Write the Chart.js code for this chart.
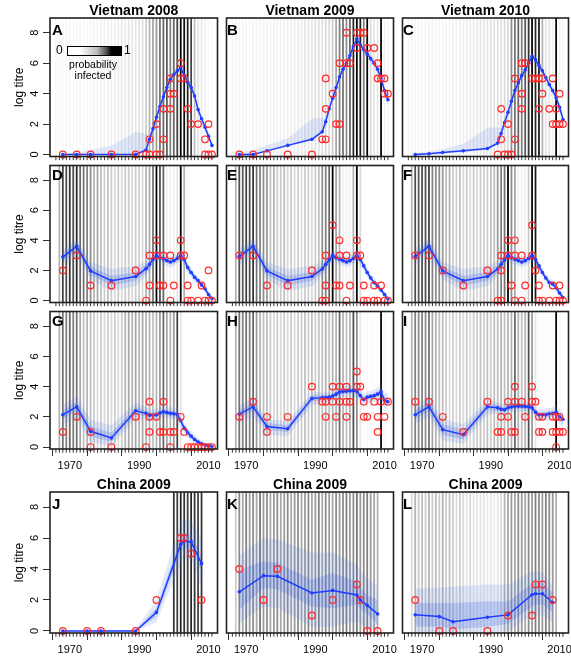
<!DOCTYPE html>
<html><head><meta charset="utf-8">
<script src="https://cdn.jsdelivr.net/npm/chart.js@4.4.1/dist/chart.umd.min.js"></script>
<style>
html,body{margin:0;padding:0;background:#fff;}
#wrap{position:relative;width:571px;height:656px;overflow:hidden;font-family:"Liberation Sans",Arial,Helvetica,sans-serif;color:#000;}
#wrap canvas{position:absolute;}
.letter{position:absolute;font-weight:bold;font-size:15px;line-height:15px;}
.lg{position:absolute;}
</style></head><body><div id="wrap"></div>
<script>
// ---------- data ----------
const probYears = [1966,1967,1968,1969,1970,1971,1972,1973,1974,1975,1976,1977,1978,1979,1980,1981,1982,1983,1984,1985,1986,1987,1988,1989,1990,1991,1992,1993,1994,1995,1996,1997,1998,1999,2000,2001,2002,2003,2004,2005,2006,2007,2008,2009,2010,2011];
const vnYears = [1968,1972,1976,1982,1989,1992,1993,1994,1995,1996,1997,1998,1999,2000,2001,2002,2003,2004,2005,2006,2007,2008,2009,2010,2011];
const cnYears = [1968,1975,1979,1989,1995,2002,2003,2005,2008];
const xTickValues = [1970,1980,1990,2000,2010];
const xTickLabels = [1970,1990,2010];
const yTickValues = [0,2,4,6,8];

const probA = [.03,.03,.03,.03,.03,.03,.03,.03,.03,.03,.04,.04,.04,.05,.05,.05,.06,.06,.07,.08,.08,.1,.1,.1,.12,.12,.2,.3,.35,.4,.55,.6,.65,.5,.6,.75,1,.95,.85,.75,.25,.1,.08,.05,.03,.02];
const probB = [.04,.04,.04,.04,.04,.04,.04,.04,.04,.04,.04,.04,.05,.05,.05,.06,.06,.07,.07,.08,.08,.1,.1,.1,.12,.12,.12,.15,.15,.2,.35,.5,.55,.45,.6,.85,1,.9,.5,1,.15,.1,.1,1,.05,.03];
const probC = [.04,.04,.04,.04,.04,.04,.04,.04,.04,.04,.04,.04,.05,.05,.05,.06,.06,.07,.07,.08,.08,.1,.1,.1,.12,.12,.12,.12,.15,.15,.45,.55,.6,.5,.65,.8,1,.85,.9,.3,.1,.1,.05,1,.05,.03];
const probD = [0,.3,.75,.7,.8,.7,.85,.6,.55,.5,.45,.3,.35,.25,.2,.25,.2,.15,.2,.15,.2,.2,.15,.2,.2,.15,.3,.35,.55,1,.7,.6,.05,.05,.05,.1,1,.3,.03,0,0,0,0,0,0,0];
const probE = [0,.3,.7,.65,.75,.7,.8,.55,.5,.45,.4,.25,.3,.2,.2,.25,.15,.2,.15,.2,.15,.2,.2,.15,.2,.25,.45,.5,.6,1,.35,.3,.05,.05,.05,.3,1,.15,0,0,0,0,0,0,0,0];
const probF = [0,.3,.7,.65,.7,.7,.75,.5,.45,.45,.4,.25,.3,.2,.2,.25,.15,.2,.15,.2,.15,.2,.2,.2,.25,.25,.4,.5,.55,1,.45,.35,.05,.05,.05,.2,1,.9,0,0,0,0,0,0,0,0];
const probG = [0,.3,.55,.5,.6,.5,.55,.35,.25,.3,.25,.2,.15,.2,.15,.2,.15,.2,.15,.2,.3,.35,.3,.35,.3,.35,.3,.3,.25,.3,.4,.6,.35,.3,.4,.75,.1,0,0,0,0,0,0,0,0,0];
const probH = [0,.3,.55,.5,.55,.5,.6,.4,.3,.25,.25,.2,.15,.2,.15,.2,.15,.2,.15,.2,.2,.25,.2,.25,.2,.25,.25,.3,.25,.3,.3,.6,.3,.25,.3,.7,.45,.1,.02,.02,.02,.02,.02,1,.02,0];
const probI = [0,.3,.5,.45,.5,.45,.55,.35,.3,.25,.25,.2,.15,.2,.15,.2,.15,.2,.15,.2,.2,.25,.2,.25,.2,.25,.25,.3,.25,.3,.3,.6,.3,.25,.3,.7,.4,.1,.02,.02,.02,.02,.02,1,.02,0];
const probJ = [0,0,0,0,0,0,0,0,0,0,0,0,0,0,0,0,0,0,0,0,0,0,0,0,0,0,0,0,0,0,0,0,0,0,.8,.75,.85,.8,.75,.85,.8,.75,.8,0,0,0];
const probK = [0,.2,.45,.35,.5,.4,.45,.35,.55,.4,.45,.35,.4,.45,.35,.4,.45,.35,.4,.45,.35,.4,.45,.35,.4,.5,.35,.45,.4,.35,.45,.4,.45,.5,.4,.45,.55,.4,.45,.5,.4,.35,.3,0,0,0];
const probL = [0,.15,.3,.2,.25,.2,.3,.2,.25,.2,.3,.2,.25,.2,.15,.2,.15,.1,.15,.1,.1,.1,.1,.08,.1,.08,.1,.15,.3,.35,.4,.35,.45,.4,.35,.45,.4,.5,.45,.4,.5,.45,.4,.3,0,0];

const meanA = [0,0,0,0,0,0.3,1.0,1.7,2.45,3.15,3.8,4.4,4.95,5.25,5.5,5.7,5.2,4.75,4.4,3.85,2.95,2.35,1.8,1.2,0.6];
const outerLoA = [0,0,0,0,0,0.2,0.85,1.5,2.25,2.95,3.6,4.2,4.75,5.05,5.3,5.45,4.95,4.5,4.15,3.6,2.7,2.1,1.55,0.95,0.35];
const outerHiA = [0.05,0.12,0.3,0.6,1.5,1.35,1.3,1.95,2.7,3.4,4.05,4.65,5.2,5.5,5.75,5.95,5.45,5.0,4.65,4.1,3.2,2.6,2.05,1.45,0.85];
const meanB = [0,0,0.24,0.6,1.0,1.5,2.15,3.0,3.7,4.4,5.1,5.6,6.0,6.5,7.1,7.6,7.2,6.9,6.6,6.3,6.0,5.6,5.0,4.2,3.6];
const outerLoB = [0,0,0.2,0.5,0.9,1.4,2.0,2.8,3.5,4.2,4.9,5.4,5.8,6.3,6.85,7.3,6.95,6.6,6.3,6.0,5.7,5.3,4.7,3.9,3.25];
const outerHiB = [0.15,0.3,0.6,1.05,2.35,2.4,2.4,3.2,3.9,4.6,5.3,5.8,6.25,6.75,7.35,7.85,7.45,7.15,6.9,6.6,6.3,5.9,5.3,4.5,3.95];
const meanC = [0,0.05,0.13,0.24,0.4,0.75,1.38,2.1,2.77,3.5,4.2,4.7,5.2,5.55,6.0,6.45,6.23,5.85,5.5,5.05,4.6,4.2,3.75,3.1,2.3];
const outerLoC = [0,0,0.05,0.15,0.3,0.65,1.25,1.9,2.6,3.3,4.0,4.5,5.0,5.35,5.8,6.2,6.0,5.6,5.25,4.8,4.35,3.95,3.5,2.85,2.0];
const outerHiC = [0.1,0.2,0.35,0.7,1.75,1.8,1.75,2.35,3.0,3.7,4.4,4.9,5.4,5.8,6.2,6.7,6.45,6.1,5.75,5.3,4.85,4.45,4.0,3.35,2.6];

const meanD = [2.9,3.6,1.97,1.32,1.6,2.12,2.4,2.73,3.0,2.85,2.77,2.65,2.56,2.65,2.8,3.0,2.73,2.19,1.86,1.54,1.32,1.04,0.78,0.4,0.13];
const outerLoD = [2.3,3.0,1.4,0.65,0.95,1.6,1.95,2.3,2.6,2.45,2.4,2.3,2.2,2.3,2.45,2.6,2.35,1.85,1.55,1.25,1.05,0.8,0.55,0.2,-0.05];
const outerHiD = [3.4,4.15,2.55,2.1,2.3,2.6,2.85,3.15,3.35,3.25,3.15,3.0,2.95,3.0,3.15,3.35,3.1,2.55,2.2,1.85,1.6,1.3,1.0,0.65,0.35];
const innerLoD = [2.6,3.3,1.7,1.0,1.3,1.85,2.15,2.5,2.8,2.65,2.6,2.5,2.4,2.45,2.62,2.8,2.55,2.0,1.7,1.4,1.18,0.92,0.66,0.3,0.05];
const innerHiD = [3.15,3.9,2.25,1.65,1.9,2.4,2.65,2.95,3.2,3.05,2.95,2.8,2.72,2.8,2.98,3.2,2.9,2.38,2.03,1.7,1.46,1.17,0.9,0.52,0.25];
const meanE = [2.94,3.6,1.97,1.32,1.6,2.1,2.4,2.7,3.0,2.85,2.75,2.65,2.56,2.65,2.8,3.0,2.73,2.3,1.86,1.5,1.2,0.95,0.7,0.4,0.1];
const outerLoE = [2.35,3.0,1.4,0.65,0.95,1.6,1.95,2.3,2.6,2.45,2.4,2.3,2.2,2.3,2.45,2.6,2.35,1.95,1.55,1.2,0.9,0.7,0.45,0.15,-0.15];
const outerHiE = [3.45,4.15,2.55,2.1,2.3,2.6,2.85,3.1,3.35,3.25,3.1,3.0,2.95,3.0,3.15,3.35,3.1,2.65,2.2,1.8,1.5,1.2,0.95,0.65,0.35];
const innerLoE = [2.65,3.3,1.7,1.0,1.3,1.85,2.15,2.5,2.8,2.65,2.58,2.48,2.38,2.45,2.62,2.8,2.55,2.12,1.7,1.35,1.06,0.82,0.58,0.28,-0.02];
const innerHiE = [3.2,3.9,2.25,1.65,1.9,2.35,2.65,2.9,3.2,3.05,2.92,2.82,2.74,2.82,2.98,3.2,2.9,2.48,2.03,1.65,1.34,1.08,0.82,0.52,0.22];
const meanF = [2.94,3.6,1.97,1.32,1.6,2.1,2.4,2.7,3.0,2.85,2.75,2.65,2.56,2.65,2.8,3.0,2.73,2.3,1.86,1.5,1.2,1.1,0.85,0.5,0.2];
const outerLoF = [2.35,3.0,1.4,0.65,0.95,1.6,1.95,2.3,2.6,2.45,2.4,2.3,2.2,2.3,2.45,2.6,2.35,1.95,1.55,1.2,0.9,0.8,0.55,0.2,-0.1];
const outerHiF = [3.45,4.15,2.55,2.1,2.3,2.6,2.85,3.1,3.35,3.25,3.1,3.0,2.95,3.0,3.15,3.35,3.1,2.65,2.2,1.8,1.5,1.4,1.15,0.8,0.5];
const innerLoF = [2.65,3.3,1.7,1.0,1.3,1.85,2.15,2.5,2.8,2.65,2.58,2.48,2.38,2.45,2.62,2.8,2.55,2.12,1.7,1.35,1.06,0.95,0.7,0.35,0.05];
const innerHiF = [3.2,3.9,2.25,1.65,1.9,2.35,2.65,2.9,3.2,3.05,2.92,2.82,2.74,2.82,2.98,3.2,2.9,2.48,2.03,1.65,1.34,1.25,1.0,0.65,0.35];

const meanG = [2.14,2.66,1.04,0.6,2.4,2.23,2.1,2.1,2.14,2.25,2.34,2.28,2.23,2.2,2.15,1.75,1.25,0.95,0.72,0.5,0.33,0.22,0.13,0.07,0.03];
const outerLoG = [1.5,1.95,0.3,0.05,1.85,1.8,1.7,1.72,1.75,1.85,1.95,1.9,1.85,1.82,1.75,1.35,0.9,0.6,0.4,0.2,0.08,0,-0.05,-0.1,-0.1];
const outerHiG = [2.8,3.4,1.8,1.45,2.95,2.65,2.5,2.5,2.55,2.65,2.72,2.68,2.62,2.58,2.55,2.15,1.6,1.3,1.05,0.8,0.6,0.45,0.33,0.25,0.2];
const innerLoG = [1.85,2.35,0.7,0.35,2.15,2.02,1.9,1.92,1.95,2.05,2.15,2.1,2.04,2.0,1.95,1.55,1.07,0.78,0.56,0.35,0.2,0.11,0.04,0,-0.03];
const innerHiG = [2.45,3.0,1.4,0.95,2.65,2.44,2.3,2.3,2.34,2.45,2.53,2.47,2.42,2.4,2.35,1.95,1.43,1.12,0.88,0.65,0.46,0.33,0.22,0.15,0.1];
const meanH = [2.19,2.66,1.36,1.21,3.22,3.27,3.28,3.3,3.38,3.5,3.64,3.68,3.7,3.72,3.74,3.7,3.4,3.15,3.3,3.35,3.4,3.5,3.65,3.1,3.0];
const outerLoH = [1.6,2.0,0.85,0.7,2.75,2.9,2.92,2.95,3.02,3.12,3.25,3.3,3.32,3.33,3.35,3.3,3.0,2.78,2.92,2.95,2.98,3.05,3.15,2.55,2.4];
const outerHiH = [2.75,3.3,1.85,1.7,3.65,3.62,3.62,3.65,3.72,3.85,4.0,4.05,4.07,4.1,4.12,4.1,3.8,3.52,3.66,3.72,3.8,3.92,4.1,3.6,3.55];
const innerLoH = [1.95,2.38,1.15,1.0,3.02,3.1,3.12,3.15,3.22,3.33,3.47,3.5,3.52,3.54,3.56,3.52,3.22,2.98,3.13,3.17,3.22,3.3,3.43,2.85,2.72];
const innerHiH = [2.45,2.95,1.6,1.45,3.42,3.44,3.44,3.46,3.54,3.67,3.81,3.86,3.88,3.9,3.92,3.88,3.58,3.32,3.47,3.53,3.58,3.7,3.87,3.35,3.28];
const meanI = [2.14,2.66,1.15,0.82,2.66,2.6,2.5,2.47,2.6,2.65,2.7,2.7,2.7,2.68,2.66,2.6,2.3,2.14,2.14,2.14,2.2,2.22,2.3,2.0,1.84];
const outerLoI = [1.55,2.0,0.45,0.2,2.15,2.2,2.12,2.1,2.22,2.27,2.32,2.32,2.32,2.3,2.28,2.2,1.92,1.77,1.76,1.74,1.78,1.8,1.85,1.5,1.3];
const outerHiI = [2.7,3.35,1.85,1.5,3.15,2.98,2.88,2.85,2.98,3.03,3.08,3.08,3.08,3.06,3.04,2.98,2.68,2.52,2.52,2.54,2.6,2.64,2.75,2.5,2.38];
const innerLoI = [1.85,2.35,0.8,0.5,2.42,2.4,2.32,2.29,2.42,2.47,2.52,2.52,2.52,2.5,2.48,2.42,2.12,1.96,1.96,1.95,2.0,2.02,2.08,1.76,1.58];
const innerHiI = [2.45,2.98,1.5,1.15,2.9,2.8,2.68,2.65,2.78,2.83,2.88,2.88,2.88,2.86,2.84,2.78,2.48,2.32,2.32,2.33,2.4,2.42,2.52,2.24,2.1];

const meanJ = [0,0,0,0,1.2,5.6,5.8,5.75,4.35];
const outerLoJ = [0,0,0,0,0.55,4.3,4.7,4.6,2.8];
const outerHiJ = [0.05,0.05,0.05,0.1,2.05,7.0,7.3,7.1,6.0];
const innerLoJ = [0,0,0,0,0.9,5.1,5.3,5.3,3.8];
const innerHiJ = [0,0,0,0.05,1.5,6.1,6.3,6.2,4.9];
const meanK = [2.53,3.57,3.53,2.45,2.62,2.32,2.0,1.65,1.1];
const outerLoK = [0.5,1.58,1.5,0.28,0.28,0.6,0.45,0.2,-0.1];
const outerHiK = [4.87,6.0,5.9,5.06,5.06,4.28,3.9,3.4,2.9];
const innerLoK = [1.36,2.77,2.7,1.58,1.47,1.69,1.45,1.1,0.45];
const innerHiK = [3.96,4.5,4.4,3.3,3.74,3.2,2.8,2.3,2.0];
const meanL = [1.04,0.93,0.6,0.89,1.04,2.34,2.4,2.4,1.84];
const outerLoL = [-0.1,-0.1,-0.1,-0.1,0.0,1.0,1.0,1.0,0.6];
const outerHiL = [2.73,2.8,2.85,3.0,3.0,3.85,3.85,3.8,2.9];
const innerLoL = [0.28,0.3,0.1,0.28,0.45,1.6,1.7,1.7,1.2];
const innerHiL = [1.8,1.8,1.8,1.9,1.9,3.06,3.1,3.1,2.5];

const obsA = [[1968,0],[1972,0],[1976,0],[1982,0],[1989,0],[1992,0],[1993,0],[1993,1],[1995,0],[1995,2],[1996,0],[1997,1],[1997,3],[1999,3],[1999,4],[2000,4],[1999,5],[2002,6],[2002,5],[2003,5],[2004,3],[2005,2],[2007,2],[2010,2],[2009,1],[2009,0],[2010,0],[2011,0]];
const obsB = [[1968,0],[1972,0],[1976,0],[1982,0],[1989,0],[1992,1],[1993,1],[1993,3],[1993,5],[1995,4],[1996,2],[1997,2],[1997,6],[1999,6],[2000,6],[1999,8],[2002,8],[2003,8],[2004,8],[2002,7],[2005,7],[2007,7],[2008,5],[2008,6],[2009,5],[2010,5],[2010,4],[2011,4]];
const obsC = [[1992,0],[1993,1],[1993,3],[1994,0],[1995,0],[1995,2],[1996,0],[1997,1],[1997,5],[1999,3],[1999,4],[1999,6],[2000,6],[2002,5],[2003,5],[2004,5],[2005,5],[2004,3],[2005,4],[2007,3],[2008,5],[2009,3],[2010,4],[2008,2],[2009,2],[2010,2],[2011,2]];
const obsD = [[1968,2],[1972,3],[1976,1],[1982,1],[1989,2],[1992,0],[1993,1],[1993,3],[1995,4],[1995,3],[1996,1],[1997,1],[1997,3],[1999,3],[1999,0],[2000,1],[2002,4],[2002,3],[2003,3],[2004,1],[2004,0],[2005,0],[2007,0],[2008,1],[2010,2],[2009,0],[2010,0],[2011,0]];
const obsE = [[1968,3],[1972,3],[1976,1],[1982,1],[1989,2],[1992,0],[1993,0],[1993,1],[1993,3],[1995,5],[1996,1],[1997,1],[1997,4],[1997,3],[1999,3],[1999,0],[2000,1],[2002,4],[2002,3],[2003,3],[2004,1],[2004,0],[2005,0],[2007,0],[2008,0],[2007,1],[2009,1],[2010,0],[2011,0]];
const obsF = [[1968,3],[1972,3],[1976,2],[1982,1],[1989,2],[1992,0],[1993,0],[1993,2],[1993,3],[1995,4],[1997,4],[1995,3],[1997,3],[1999,3],[1996,1],[1997,0],[1999,0],[2000,1],[2002,5],[2002,3],[2003,2],[2004,1],[2004,0],[2005,0],[2007,0],[2008,1],[2009,0],[2010,1],[2010,0],[2011,0]];
const obsG = [[1968,1],[1972,2],[1976,1],[1976,0],[1982,0],[1989,2],[1992,0],[1993,3],[1993,2],[1995,2],[1993,1],[1996,1],[1997,1],[1997,3],[1999,1],[2000,1],[1999,0],[2002,2],[2003,1],[2004,0],[2005,0],[2006,0],[2007,0],[2008,0],[2009,0],[2010,0],[2011,0]];
const obsH = [[1968,2],[1972,3],[1976,2],[1976,1],[1982,2],[1989,4],[1992,3],[1993,3],[1993,2],[1995,4],[1997,4],[1999,4],[1995,3],[1997,3],[1999,3],[2000,3],[1996,2],[1999,2],[2002,5],[2002,4],[2003,4],[2004,3],[2004,2],[2005,2],[2007,3],[2008,2],[2008,1],[2009,3],[2010,2],[2011,3]];
const obsI = [[1968,3],[1972,3],[1976,2],[1982,1],[1989,3],[1992,1],[1993,1],[1993,2],[1995,3],[1995,2],[1996,1],[1997,1],[1997,4],[1997,3],[1999,3],[2000,2],[2002,4],[2002,3],[2003,3],[2004,2],[2005,2],[2004,1],[2005,1],[2008,2],[2009,2],[2010,2],[2008,1],[2009,1],[2010,1],[2011,1],[2009,0]];
const obsJ = [[1968,0],[1975,0],[1979,0],[1989,0],[1995,2],[2002,6],[2003,6],[2005,5],[2008,2]];
const obsK = [[1968,4],[1975,2],[1979,4],[1989,1],[1995,2],[2002,3],[2003,2],[2005,0],[2008,0]];
const obsL = [[1968,2],[1975,0],[1979,0],[1989,0],[1995,1],[2002,1],[2003,3],[2005,3],[2008,2]];

// ---------- layout / style ----------
const X_MIN = 1964.3, X_MAX = 2012.6, Y_MIN = -0.13, Y_MAX = 8.97, RUG_Y = -0.24;
const COLS = [[50,219],[225,395],[401,570]];
const ROWS = [[19,158],[164,304],[310,449],[493,633]];
const FONT = '"Liberation Sans", Arial, Helvetica, sans-serif';
Chart.defaults.font.family = FONT;
Chart.defaults.color = '#000';

const panels = [
  {id:'A',row:0,col:0,title:'Vietnam 2008',x:vnYears,mean:meanA,oLo:outerLoA,oHi:outerHiA,obs:obsA,prob:probA},
  {id:'B',row:0,col:1,title:'Vietnam 2009',x:vnYears,mean:meanB,oLo:outerLoB,oHi:outerHiB,obs:obsB,prob:probB},
  {id:'C',row:0,col:2,title:'Vietnam 2010',x:vnYears,mean:meanC,oLo:outerLoC,oHi:outerHiC,obs:obsC,prob:probC},
  {id:'D',row:1,col:0,x:vnYears,mean:meanD,oLo:outerLoD,oHi:outerHiD,iLo:innerLoD,iHi:innerHiD,obs:obsD,prob:probD},
  {id:'E',row:1,col:1,x:vnYears,mean:meanE,oLo:outerLoE,oHi:outerHiE,iLo:innerLoE,iHi:innerHiE,obs:obsE,prob:probE},
  {id:'F',row:1,col:2,x:vnYears,mean:meanF,oLo:outerLoF,oHi:outerHiF,iLo:innerLoF,iHi:innerHiF,obs:obsF,prob:probF},
  {id:'G',row:2,col:0,x:vnYears,mean:meanG,oLo:outerLoG,oHi:outerHiG,iLo:innerLoG,iHi:innerHiG,obs:obsG,prob:probG},
  {id:'H',row:2,col:1,x:vnYears,mean:meanH,oLo:outerLoH,oHi:outerHiH,iLo:innerLoH,iHi:innerHiH,obs:obsH,prob:probH},
  {id:'I',row:2,col:2,x:vnYears,mean:meanI,oLo:outerLoI,oHi:outerHiI,iLo:innerLoI,iHi:innerHiI,obs:obsI,prob:probI},
  {id:'J',row:3,col:0,title:'China 2009',x:cnYears,mean:meanJ,oLo:outerLoJ,oHi:outerHiJ,iLo:innerLoJ,iHi:innerHiJ,obs:obsJ,prob:probJ},
  {id:'K',row:3,col:1,title:'China 2009',x:cnYears,mean:meanK,oLo:outerLoK,oHi:outerHiK,iLo:innerLoK,iHi:innerHiK,obs:obsK,prob:probK},
  {id:'L',row:3,col:2,title:'China 2009',x:cnYears,mean:meanL,oLo:outerLoL,oHi:outerHiL,iLo:innerLoL,iHi:innerHiL,obs:obsL,prob:probL}
];

const wrap = document.getElementById('wrap');
const framePlugin = {
  id:'frame',
  afterDatasetsDraw(chart){
    const a = chart.chartArea, c = chart.ctx;
    c.save(); c.strokeStyle = '#222'; c.lineWidth = 1.6;
    c.strokeRect(a.left, a.top, a.right - a.left, a.bottom - a.top);
    c.restore();
  }
};
const xy = (xs, ys) => xs.map((x,i) => ({x:x, y:ys[i]}));
const gray = p => { const g = Math.round(255*(1-p)); return `rgb(${g},${g},${g})`; };
const noPad = s => { s.paddingLeft = 0; s.paddingRight = 0; s.paddingTop = 0; s.paddingBottom = 0; };

function build(p){
  const [L,R] = COLS[p.col], [T,B] = ROWS[p.row];
  const hasY = p.col === 0, hasX = p.row >= 2, hasTitle = !!p.title;
  const PAD = 3, TITLE_H = 22, XAX_H = 24;
  const cl = hasY ? 0 : L - PAD, ct = hasTitle ? T - TITLE_H : T - PAD;
  const cr = R + PAD, cb = hasX ? B + XAX_H : B + PAD;
  const cv = document.createElement('canvas');
  cv.width = cr - cl; cv.height = cb - ct;
  cv.style.left = cl + 'px'; cv.style.top = ct + 'px';
  wrap.appendChild(cv);

  const ds = [];
  ds.push({type:'scatter', data: probYears.map(y => ({x:y, y:RUG_Y})), pointStyle:'line', pointRotation:90,
    pointRadius:2, pointHoverRadius:2, pointBorderColor:'#333', borderColor:'#333', pointBorderWidth:1, clip:false});
  ds.push({type:'scatter', data: p.obs.map(o => ({x:o[0], y:o[1]})), pointStyle:'circle', pointRadius:3.3, pointHoverRadius:3.3,
    pointBorderColor:'#ff2a2a', pointBackgroundColor:'rgba(0,0,0,0)', pointBorderWidth:1.2, clip:false});
  ds.push({type:'line', data: xy(p.x, p.mean), borderColor:'#1f3cff', borderWidth:1.5, pointRadius:1.8, pointHoverRadius:1.8,
    pointBackgroundColor:'#1f3cff', pointBorderWidth:0, fill:false, tension:0});
  if (p.iHi) {
    ds.push({type:'line', data: xy(p.x, p.iHi), borderWidth:0, pointRadius:0, fill:'+1', backgroundColor:'rgba(55,95,225,0.22)'});
    ds.push({type:'line', data: xy(p.x, p.iLo), borderWidth:0, pointRadius:0, fill:false});
  }
  ds.push({type:'line', data: xy(p.x, p.oHi), borderWidth:0, pointRadius:0, fill:'+1', backgroundColor:'rgba(80,125,235,0.16)'});
  ds.push({type:'line', data: xy(p.x, p.oLo), borderWidth:0, pointRadius:0, fill:false});
  ds.push({type:'bar', data: probYears.map(y => ({x:y, y:[-1, 10]})), backgroundColor: p.prob.map(gray), barThickness:1.1, borderWidth:0, grouped:false});

  new Chart(cv, {
    type:'line',
    data:{datasets: ds},
    options:{
      responsive:false, animation:false, events:[],
      layout:{padding:{left: hasY?0:PAD, top: hasTitle?0:PAD, right:PAD, bottom: hasX?0:PAD}},
      plugins:{
        legend:{display:false}, tooltip:{enabled:false},
        title: hasTitle ? {display:true, text:p.title, color:'#000', fullSize:false,
          font:{size:14, weight:'bold', lineHeight:1, family:FONT}, padding:{top:7, bottom:0}} : {display:false}
      },
      scales:{
        x:{type:'linear', min:X_MIN, max:X_MAX, offset:false, display:hasX,
          afterBuildTicks: s => { s.ticks = xTickValues.map(v => ({value:v})); },
          afterFit: s => { noPad(s); if (hasX) s.height = XAX_H; },
          ticks:{autoSkip:false, maxRotation:0, minRotation:0, padding:3, font:{size:11}, color:'#000',
            callback: v => xTickLabels.includes(v) ? String(v) : ''},
          grid:{display:true, drawOnChartArea:false, drawTicks:true, tickLength:7, color:'#333', lineWidth:1},
          border:{display:false}},
        y:{type:'linear', min:Y_MIN, max:Y_MAX, display:hasY,
          afterBuildTicks: s => { s.ticks = yTickValues.map(v => ({value:v})); },
          afterFit: s => { noPad(s); if (hasY) s.width = L; },
          ticks:{minRotation:90, maxRotation:90, crossAlign:'center', padding:5, font:{size:11}, color:'#000'},
          grid:{display:true, drawOnChartArea:false, drawTicks:true, tickLength:7, color:'#333', lineWidth:1},
          border:{display:false},
          title:{display:true, text:'log titre', font:{size:12}, padding:{top:12, bottom:0}, color:'#000'}}
      }
    },
    plugins:[framePlugin]
  });

  const lt = document.createElement('div');
  lt.className = 'letter'; lt.textContent = p.id;
  lt.style.left = (L + 2) + 'px'; lt.style.top = (T + 3) + 'px';
  wrap.appendChild(lt);
}
panels.forEach(build);

// legend in panel A
const lgHtml = `
<div class="lg" style="left:67px;top:46px;width:53px;height:8px;border:1px solid #000;background:linear-gradient(to right,#fff 0%,#fff 22%,#bbb 55%,#555 72%,#000 82%,#000 100%);"></div>
<div class="lg" style="left:56px;top:44px;font-size:12px;line-height:13px;">0</div>
<div class="lg" style="left:124px;top:44px;font-size:12px;line-height:13px;">1</div>
<div class="lg" style="left:58px;top:59px;width:70px;text-align:center;font-size:10.5px;line-height:11px;">probability<br>infected</div>`;
wrap.insertAdjacentHTML('beforeend', lgHtml);
</script>
</body></html>
